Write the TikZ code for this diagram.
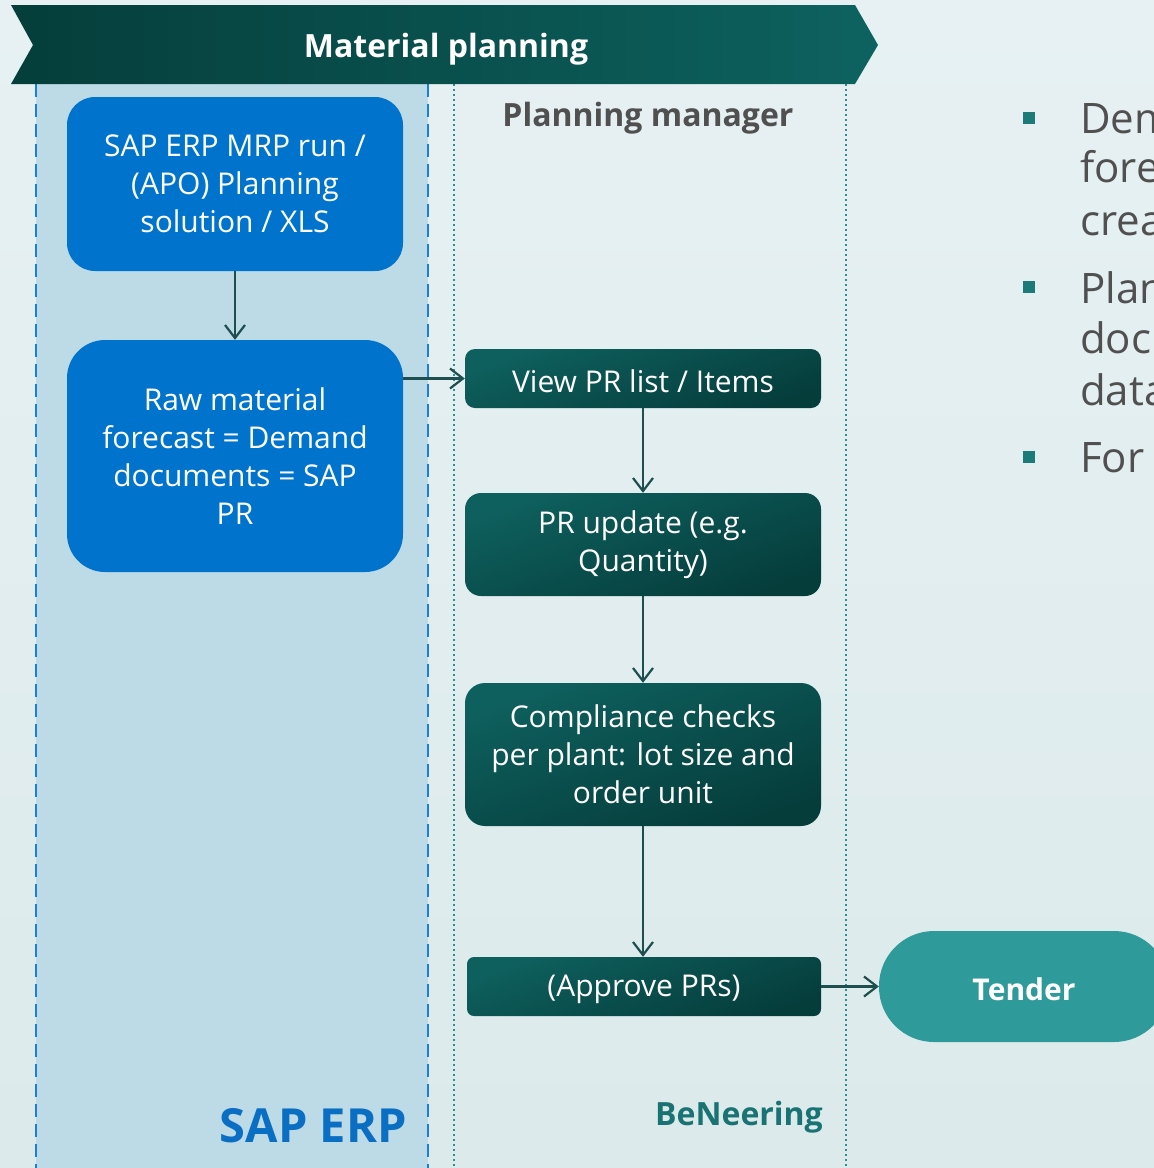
\documentclass[tikz,border=0pt]{standalone}
\usepackage{fontspec}
\setmainfont{Open Sans}
\usetikzlibrary{arrows.meta}
\definecolor{bgtop}{HTML}{E7F1F3}
\definecolor{bgbot}{HTML}{DCEAEC}
\definecolor{lanefill}{HTML}{BDDAE7}
\definecolor{sapblue}{HTML}{0074CC}
\definecolor{tealA}{HTML}{0E605E}
\definecolor{tealB}{HTML}{053D3B}
\definecolor{bannerA}{HTML}{053E3B}
\definecolor{bannerB}{HTML}{0D625F}
\definecolor{arrowc}{HTML}{1E4E4E}
\definecolor{tendc}{HTML}{2F9A9A}
\definecolor{dashblue}{HTML}{1A7FD9}
\definecolor{dotteal}{HTML}{2A9090}
\definecolor{graytext}{HTML}{505050}
\definecolor{saplabel}{HTML}{0A6FC2}
\definecolor{benc}{HTML}{197373}
\definecolor{bulletc}{HTML}{1C7A78}
\newcommand{\lowertext}[1]{\raisebox{-3pt}[\height][\depth]{#1}}
\tikzset{
  bluebox/.style={fill=sapblue, text=white, align=center, inner sep=0pt,
    minimum width=336pt, font=\fontsize{30}{38}\selectfont},
  tealbox/.style={top color=tealA, bottom color=tealB, shading angle=20,
    text=white, align=center, inner sep=0pt,
    minimum width=356pt, font=\fontsize{30}{38}\selectfont},
  flow/.style={draw=arrowc, line width=2.2pt,
    -{Straight Barb[length=13pt,width=20pt,line width=2.2pt]}},
  lanedash/.style={draw=dashblue, line width=2.5pt, dash pattern=on 13pt off 7pt},
  lanedot/.style={draw=dotteal, line width=2pt, dash pattern=on 2pt off 3pt},
  bullettext/.style={anchor=base west, text=graytext, inner sep=0pt,
    font=\fontsize{42}{51}\selectfont},
  bulletsq/.style={fill=bulletc, minimum size=12pt, inner sep=0pt},
}
\begin{document}
\begin{tikzpicture}[x=1pt,y=-1pt]
\useasboundingbox (0,0) rectangle (1154,1168);
\begin{scope}
\clip (0,0) rectangle (1154,1168);
% background
\shade[top color=bgtop, bottom color=bgbot] (0,0) rectangle (1154,1168);
% left lane
\fill[lanefill] (36,84) rectangle (428,1168);
\draw[lanedash] (36,84) -- (36,1168);
\draw[lanedash] (428,84) -- (428,1168);
\draw[lanedot] (454,84) -- (454,1168);
\draw[lanedot] (846,84) -- (846,1168);
% banner
\shade[left color=bannerA, right color=bannerB]
  (11,5) -- (855,5) -- (878,45) -- (855,84) -- (11,84) -- (33,45) -- cycle;
\node[text=white, font=\bfseries\fontsize{32}{36}\selectfont] (title) at (446,49) {Material planning};
\node[text=graytext, font=\bfseries\fontsize{32}{36}\selectfont] (pm) at (648,118) {Planning manager};
% boxes
\node[bluebox, minimum height=174pt, rounded corners=28pt] (sap) at (235,184)
  {SAP ERP MRP run /\\(APO) Planning\\solution / XLS};
\node[bluebox, minimum height=232pt, rounded corners=38pt] (raw) at (235,456)
  {Raw material\\forecast = Demand\\documents = SAP\\PR};
\node[tealbox, minimum height=59pt, rounded corners=10pt] (view) at (643,378.5)
  {\lowertext{View PR list / Items}};
\node[tealbox, minimum height=103pt, rounded corners=16pt] (upd) at (643,544.5)
  {PR update (e.g.\\Quantity)};
\node[tealbox, minimum height=143pt, rounded corners=20pt] (comp) at (643,754.5)
  {Compliance checks\\per plant: lot size and\\order unit};
\node[tealbox, minimum width=354pt, minimum height=59pt, rounded corners=7pt] (appr) at (644,986.5)
  {\lowertext{(Approve PRs)}};
\node[fill=tendc, text=white, minimum width=290pt, minimum height=111pt, inner sep=0pt,
  rounded corners=55pt, font=\bfseries\fontsize{30}{36}\selectfont] (tender) at (1024,986.5) {\lowertext{Tender}};
% connectors
\draw[flow] (sap.south) -- (raw.north);
\draw[flow] (view.west -| raw.east) -- (view.west);
\draw[flow] (view.south) -- (upd.north);
\draw[flow] (upd.south) -- (comp.north);
\draw[flow] (comp.south) -- (comp.south |- appr.north);
\draw[flow] (appr.east) -- (tender.west);
% lane labels
\node[anchor=base east, text=saplabel, inner sep=0pt, font=\bfseries\fontsize{47}{50}\selectfont] (saplbl) at (407,1142) {SAP ERP};
\node[anchor=base east, text=benc, inner sep=0pt, font=\bfseries\fontsize{32}{36}\selectfont] (benlbl) at (823,1125) {BeNeering};
% right bullets
\node[bulletsq] (b1) at (1029,118) {};
\node[bulletsq] (b2) at (1029,287) {};
\node[bulletsq] (b3) at (1029,457) {};
\node[bullettext] (t1a) at (1080,133) {Dem};
\node[bullettext] (t1b) at (1080,182) {fore};
\node[bullettext] (t1c) at (1080,235) {crea};
\node[bullettext] (t2a) at (1080,303) {Plan};
\node[bullettext] (t2b) at (1080,353) {docu};
\node[bullettext] (t2c) at (1080,405) {data};
\node[bullettext] (t3a) at (1080,472) {For};
\end{scope}
\end{tikzpicture}
\end{document}
